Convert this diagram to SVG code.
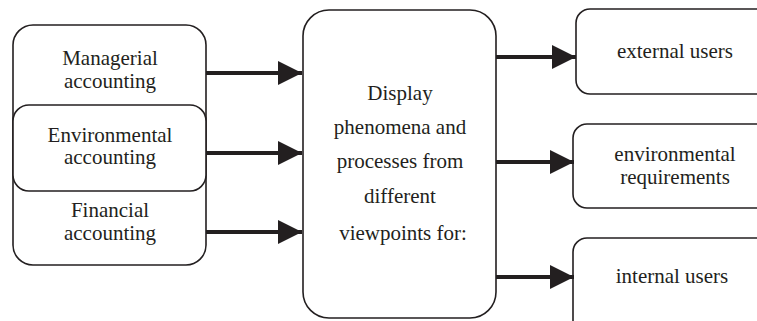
<svg xmlns="http://www.w3.org/2000/svg" width="757" height="321" viewBox="0 0 757 321">
<style>
.box{fill:#fff;stroke:#231f20;stroke-width:1.6}
.t{font-family:'Liberation Serif',Times,serif;font-size:21px;fill:#231f20;text-anchor:middle}
.c{stroke:#231f20;stroke-width:4;fill:none}
</style>
<defs>
<marker id="ah" markerUnits="userSpaceOnUse" markerWidth="24" markerHeight="24" viewBox="0 0 22 22" refX="22" refY="11" orient="auto">
<path d="M0,0 L22,11 L0,22 Z" fill="#231f20"/>
</marker>
</defs>
<g id="left-group">
<rect class="box" x="13" y="25" width="193" height="240" rx="20"/>
<text class="t" font-family="Liberation Serif, serif" x="110" y="65">Managerial</text>
<text class="t" font-family="Liberation Serif, serif" x="110" y="88">accounting</text>
<text class="t" font-family="Liberation Serif, serif" x="110" y="217">Financial</text>
<text class="t" font-family="Liberation Serif, serif" x="110" y="240">accounting</text>
</g>
<g id="environmental-accounting">
<rect class="box" x="13" y="105" width="193" height="86" rx="16"/>
<text class="t" font-family="Liberation Serif, serif" x="110" y="142">Environmental</text>
<text class="t" font-family="Liberation Serif, serif" x="110" y="164">accounting</text>
</g>
<g id="center">
<rect class="box" x="303" y="10" width="193" height="308" rx="26"/>
<text class="t" font-family="Liberation Serif, serif" x="400" y="100">Display</text>
<text class="t" font-family="Liberation Serif, serif" x="400" y="134">phenomena and</text>
<text class="t" font-family="Liberation Serif, serif" x="400" y="168">processes from</text>
<text class="t" font-family="Liberation Serif, serif" x="400" y="203">different</text>
<text class="t" font-family="Liberation Serif, serif" x="403" y="240">viewpoints for:</text>
</g>
<g id="external-users">
<rect class="box" x="576" y="9" width="200" height="85" rx="14"/>
<text class="t" font-family="Liberation Serif, serif" x="675" y="58">external users</text>
</g>
<g id="environmental-requirements">
<rect class="box" x="573" y="124" width="200" height="84" rx="14"/>
<text class="t" font-family="Liberation Serif, serif" x="675" y="161">environmental</text>
<text class="t" font-family="Liberation Serif, serif" x="675" y="184">requirements</text>
</g>
<g id="internal-users">
<rect class="box" x="573" y="238" width="200" height="100" rx="14"/>
<text class="t" font-family="Liberation Serif, serif" x="672" y="283">internal users</text>
</g>
<g id="connectors">
<line class="c" x1="206" y1="73" x2="302" y2="73" marker-end="url(#ah)"/>
<line class="c" x1="206" y1="153" x2="302" y2="153" marker-end="url(#ah)"/>
<line class="c" x1="206" y1="232" x2="302" y2="232" marker-end="url(#ah)"/>
<line class="c" x1="496" y1="57" x2="576" y2="57" marker-end="url(#ah)"/>
<line class="c" x1="496" y1="162" x2="574" y2="162" marker-end="url(#ah)"/>
<line class="c" x1="496" y1="277" x2="574" y2="277" marker-end="url(#ah)"/>
</g>
</svg>
